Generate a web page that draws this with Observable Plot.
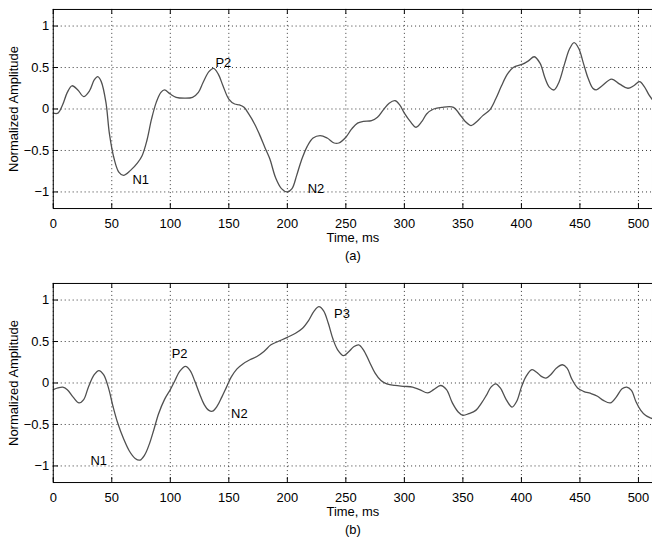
<!DOCTYPE html>
<html><head><meta charset="utf-8">
<script src="https://cdn.jsdelivr.net/npm/d3@7"></script>
<script src="https://cdn.jsdelivr.net/npm/@observablehq/plot@0.6"></script>
<style>
html,body{margin:0;padding:0;background:#fff;overflow:hidden}
#chart{width:652px;height:538px;overflow:hidden}
#chart svg{display:block}
</style></head><body><div id="chart"></div>
<script>
const xTicks = [0, 50, 100, 150, 200, 250, 300, 350, 400, 450, 500];
const yTicks = [-1, -0.5, 0, 0.5, 1];

// Panel (a)
const timeA = [0,4,8,12,16,21,26,31,35,38,41,45,48,52,56,60,66,72,76,80,84,88,92,95,100,105,112,119,124,128,133,137,141,145,150,155,159,163,167,172,176,181,185,190,195,200,204,208,212,217,222,228,234,240,244,250,255,260,265,272,277,282,287,292,296,300,305,310,315,319,325,332,342,347,352,357,362,367,373,378,383,388,393,401,406,411,416,420,424,428,432,437,441,445,449,453,457,461,464,469,477,484,491,496,501,505,509,512];
const ampA = [-0.05,-0.05,0.05,0.2,0.28,0.23,0.15,0.22,0.35,0.39,0.33,0.08,-0.30,-0.60,-0.76,-0.80,-0.74,-0.65,-0.56,-0.38,-0.12,0.08,0.2,0.23,0.18,0.14,0.13,0.14,0.2,0.32,0.45,0.49,0.42,0.28,0.12,0.06,0.05,0.02,-0.06,-0.18,-0.30,-0.47,-0.6,-0.83,-0.96,-1.0,-0.96,-0.8,-0.62,-0.45,-0.35,-0.32,-0.35,-0.41,-0.41,-0.34,-0.24,-0.17,-0.15,-0.14,-0.1,-0.01,0.07,0.10,0.05,-0.05,-0.15,-0.22,-0.15,-0.06,0.0,0.02,0.02,-0.06,-0.15,-0.2,-0.15,-0.08,-0.01,0.12,0.28,0.42,0.5,0.54,0.58,0.63,0.55,0.38,0.26,0.23,0.32,0.55,0.72,0.80,0.73,0.55,0.37,0.25,0.23,0.28,0.36,0.3,0.25,0.28,0.33,0.27,0.17,0.11];
const labelTextA = ["N1", "P2", "N2"];
const labelTimeA = [74.7, 145.3, 224.5];
const labelAmpA = [-0.85, 0.56, -0.96];

// Panel (b)
const timeB = [0,4,8,12,17,22,26,30,35,39,43,47,51,55,60,65,70,74,78,82,86,90,95,100,104,108,113,117,121,125,129,133,136,140,144,148,152,157,162,168,174,180,186,192,200,207,213,218,223,227,231,235,239,243,248,252,257,261,265,270,275,280,285,292,300,307,313,320,325,331,336,341,346,350,355,361,366,370,374,378,382,387,392,396,400,404,409,413,417,421,425,430,435,439,443,448,453,460,465,470,476,481,486,490,494,498,502,506,510,512];
const ampB = [-0.08,-0.06,-0.05,-0.08,-0.17,-0.24,-0.2,-0.05,0.1,0.15,0.1,-0.05,-0.28,-0.48,-0.67,-0.82,-0.91,-0.93,-0.87,-0.74,-0.56,-0.37,-0.2,-0.08,0.03,0.14,0.20,0.15,0.02,-0.13,-0.26,-0.33,-0.34,-0.28,-0.17,-0.05,0.07,0.17,0.23,0.28,0.32,0.38,0.46,0.5,0.55,0.6,0.66,0.75,0.87,0.92,0.87,0.72,0.53,0.4,0.33,0.37,0.44,0.46,0.4,0.26,0.12,0.03,-0.01,-0.03,-0.04,-0.05,-0.08,-0.12,-0.08,-0.03,-0.08,-0.24,-0.35,-0.39,-0.37,-0.33,-0.24,-0.15,-0.05,-0.01,-0.06,-0.2,-0.29,-0.22,-0.05,0.08,0.16,0.13,0.08,0.06,0.1,0.18,0.22,0.18,0.05,-0.06,-0.1,-0.13,-0.16,-0.21,-0.24,-0.17,-0.07,-0.05,-0.09,-0.23,-0.33,-0.39,-0.42,-0.43];
const labelTextB = ["N1", "P2", "N2", "P3"];
const labelTimeB = [38.9, 107.9, 159, 246.7];
const labelAmpB = [-0.94, 0.35, -0.37, 0.83];

const font = "'Liberation Sans', Arial, Helvetica, sans-serif";
const fmt = d => String(d).replace("-", "\u2212");

function panel(times, amps, lt, lx, ly, caption) {
  const data = times.map((t, i) => ({t, v: amps[i]}));
  const labels = lt.map((s, i) => ({s, t: lx[i], v: ly[i]}));
  const txt = {text: d => d, fill: "#000", fontSize: 13, textAnchor: "middle", lineAnchor: "middle"};
  return Plot.plot({
    width: 655, height: 275,
    marginLeft: 53, marginRight: 0, marginTop: 9, marginBottom: 66,
    style: {fontFamily: font, fontSize: "13px", background: "white", color: "black"},
    x: {domain: [0, 512]},
    y: {domain: [-1.2, 1.2]},
    marks: [
      Plot.gridX(xTicks, {stroke: "#000", strokeOpacity: 1, strokeWidth: 0.8, strokeDasharray: "1,3"}),
      Plot.gridY(yTicks, {stroke: "#000", strokeOpacity: 1, strokeWidth: 0.8, strokeDasharray: "1,3"}),
      Plot.line(data, {x: "t", y: "v", curve: "catmull-rom", stroke: "#505050", strokeWidth: 1.3}),
      Plot.ruleX(xTicks, {y1: -1.2, y2: -1.14, stroke: "#000"}),
      Plot.ruleX(xTicks, {y1: 1.2, y2: 1.14, stroke: "#000"}),
      Plot.ruleY(yTicks, {x1: 0, x2: 4.5, stroke: "#000"}),
      Plot.frame({stroke: "#000"}),
      Plot.axisX({ticks: xTicks, tickSize: 0, tickPadding: 10, label: null, tickFormat: fmt}),
      Plot.axisY({ticks: yTicks, tickSize: 0, tickPadding: 4, label: null, tickFormat: fmt}),
      Plot.text(labels, {x: "t", y: "v", text: "s", fill: "#000", fontSize: 13}),
      Plot.text(["Normalized Amplitude"], {...txt, frameAnchor: "left", rotate: -90, dx: -40}),
      Plot.text(["Time, ms"], {...txt, frameAnchor: "bottom", dy: 29}),
      Plot.text([caption], {...txt, frameAnchor: "bottom", dy: 48})
    ]
  });
}

const root = document.getElementById("chart");
root.appendChild(panel(timeA, ampA, labelTextA, labelTimeA, labelAmpA, "(a)"));
root.appendChild(panel(timeB, ampB, labelTextB, labelTimeB, labelAmpB, "(b)"));
</script>
</body></html>
